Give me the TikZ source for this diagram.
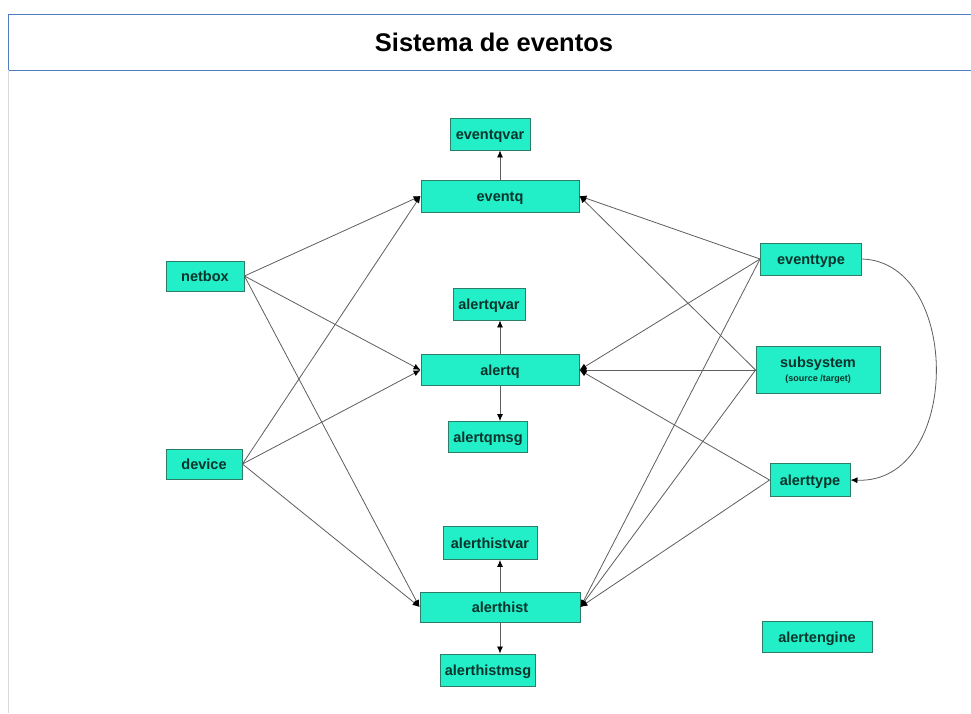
\documentclass[tikz,border=0pt]{standalone}
\usepackage{fontspec}
\setmainfont{Liberation Sans}
\usetikzlibrary{arrows.meta}
\definecolor{boxfill}{HTML}{22EEC8}
\definecolor{boxline}{HTML}{2E7D68}
\definecolor{boxtext}{HTML}{08342B}
\definecolor{titleline}{HTML}{4F7EC0}
\definecolor{wire}{HTML}{5E5E5E}
\begin{document}
\begin{tikzpicture}[x=1pt,y=-1pt,
  tbl/.style={draw=boxline, line width=0.9pt, fill=boxfill, text=boxtext,
    font=\fontsize{14.5}{15}\selectfont\bfseries, inner sep=0pt, align=center,
    text height=12pt, text depth=2pt},
  link/.style={draw=wire, line width=0.8pt, -{Latex[length=7pt,width=6pt,fill=black,color=black]}}]
\useasboundingbox (0,0) rectangle (971,713);
\fill[white] (0,0) rectangle (971,713);
% heading panel
\draw[titleline, line width=1pt] (8,14) rectangle (990,70);
\draw[black!15, line width=0.8pt] (8,70) -- (8,713);
\node[font=\fontsize{25.5}{27}\selectfont\bfseries] (title) at (494,42) {Sistema de eventos};

% tables
\node[tbl, minimum width=80pt,  minimum height=32pt] (eventqvar)    at (490,134) {eventqvar};
\node[tbl, minimum width=158pt, minimum height=32pt] (eventq)       at (500,196) {eventq};
\node[tbl, minimum width=78pt,  minimum height=30pt] (netbox)       at (205,276) {netbox};
\node[tbl, minimum width=72pt,  minimum height=32pt] (alertqvar)    at (489,304) {alertqvar};
\node[tbl, minimum width=158pt, minimum height=31pt] (alertq)       at (500,370) {alertq};
\node[tbl, minimum width=79pt,  minimum height=31pt] (alertqmsg)    at (488,437) {alertqmsg};
\node[tbl, minimum width=76pt,  minimum height=30pt] (device)       at (204,464) {device};
\node[tbl, minimum width=94pt,  minimum height=33pt] (alerthistvar) at (490,543) {alerthistvar};
\node[tbl, minimum width=160pt, minimum height=30pt] (alerthist)    at (500,607) {alerthist};
\node[tbl, minimum width=95pt,  minimum height=32pt] (alerthistmsg) at (488,670) {alerthistmsg};
\node[tbl, minimum width=101pt, minimum height=32pt] (eventtype)    at (811,259) {eventtype};
\node[tbl, minimum width=124pt, minimum height=47pt, text height=, text depth=] (subsystem) at (818,370)
  {subsystem\\[-1pt]{\fontsize{9}{10}\selectfont(source /target)}};
\node[tbl, minimum width=80pt,  minimum height=33pt] (alerttype)    at (810,480) {alerttype};
\node[tbl, minimum width=110pt, minimum height=31pt] (alertengine)  at (817,637) {alertengine};

% sources on the left
\foreach \s in {netbox,device}
  \foreach \t in {eventq,alertq,alerthist}
    \draw[link] (\s.east) -- (\t.west);

% sources on the right
\foreach \t in {eventq,alertq,alerthist}
  \draw[link] (eventtype.west) -- (\t.east);
\foreach \t in {eventq,alertq,alerthist}
  \draw[link] (subsystem.west) -- (\t.east);
\foreach \t in {alertq,alerthist}
  \draw[link] (alerttype.west) -- (\t.east);

% detail tables, straight up and down from the centre of each main table
\draw[link] (eventq.north) -- (eventq.north |- eventqvar.south);
\draw[link] (alertq.north) -- (alertq.north |- alertqvar.south);
\draw[link] (alertq.south) -- (alertq.south |- alertqmsg.north);
\draw[link] (alerthist.north) -- (alerthist.north |- alerthistvar.south);
\draw[link] (alerthist.south) -- (alerthist.south |- alerthistmsg.north);

% event type to alert type
\draw[link] (eventtype.east) .. controls (962,262) and (962,484) .. (alerttype.east);
\end{tikzpicture}
\end{document}
